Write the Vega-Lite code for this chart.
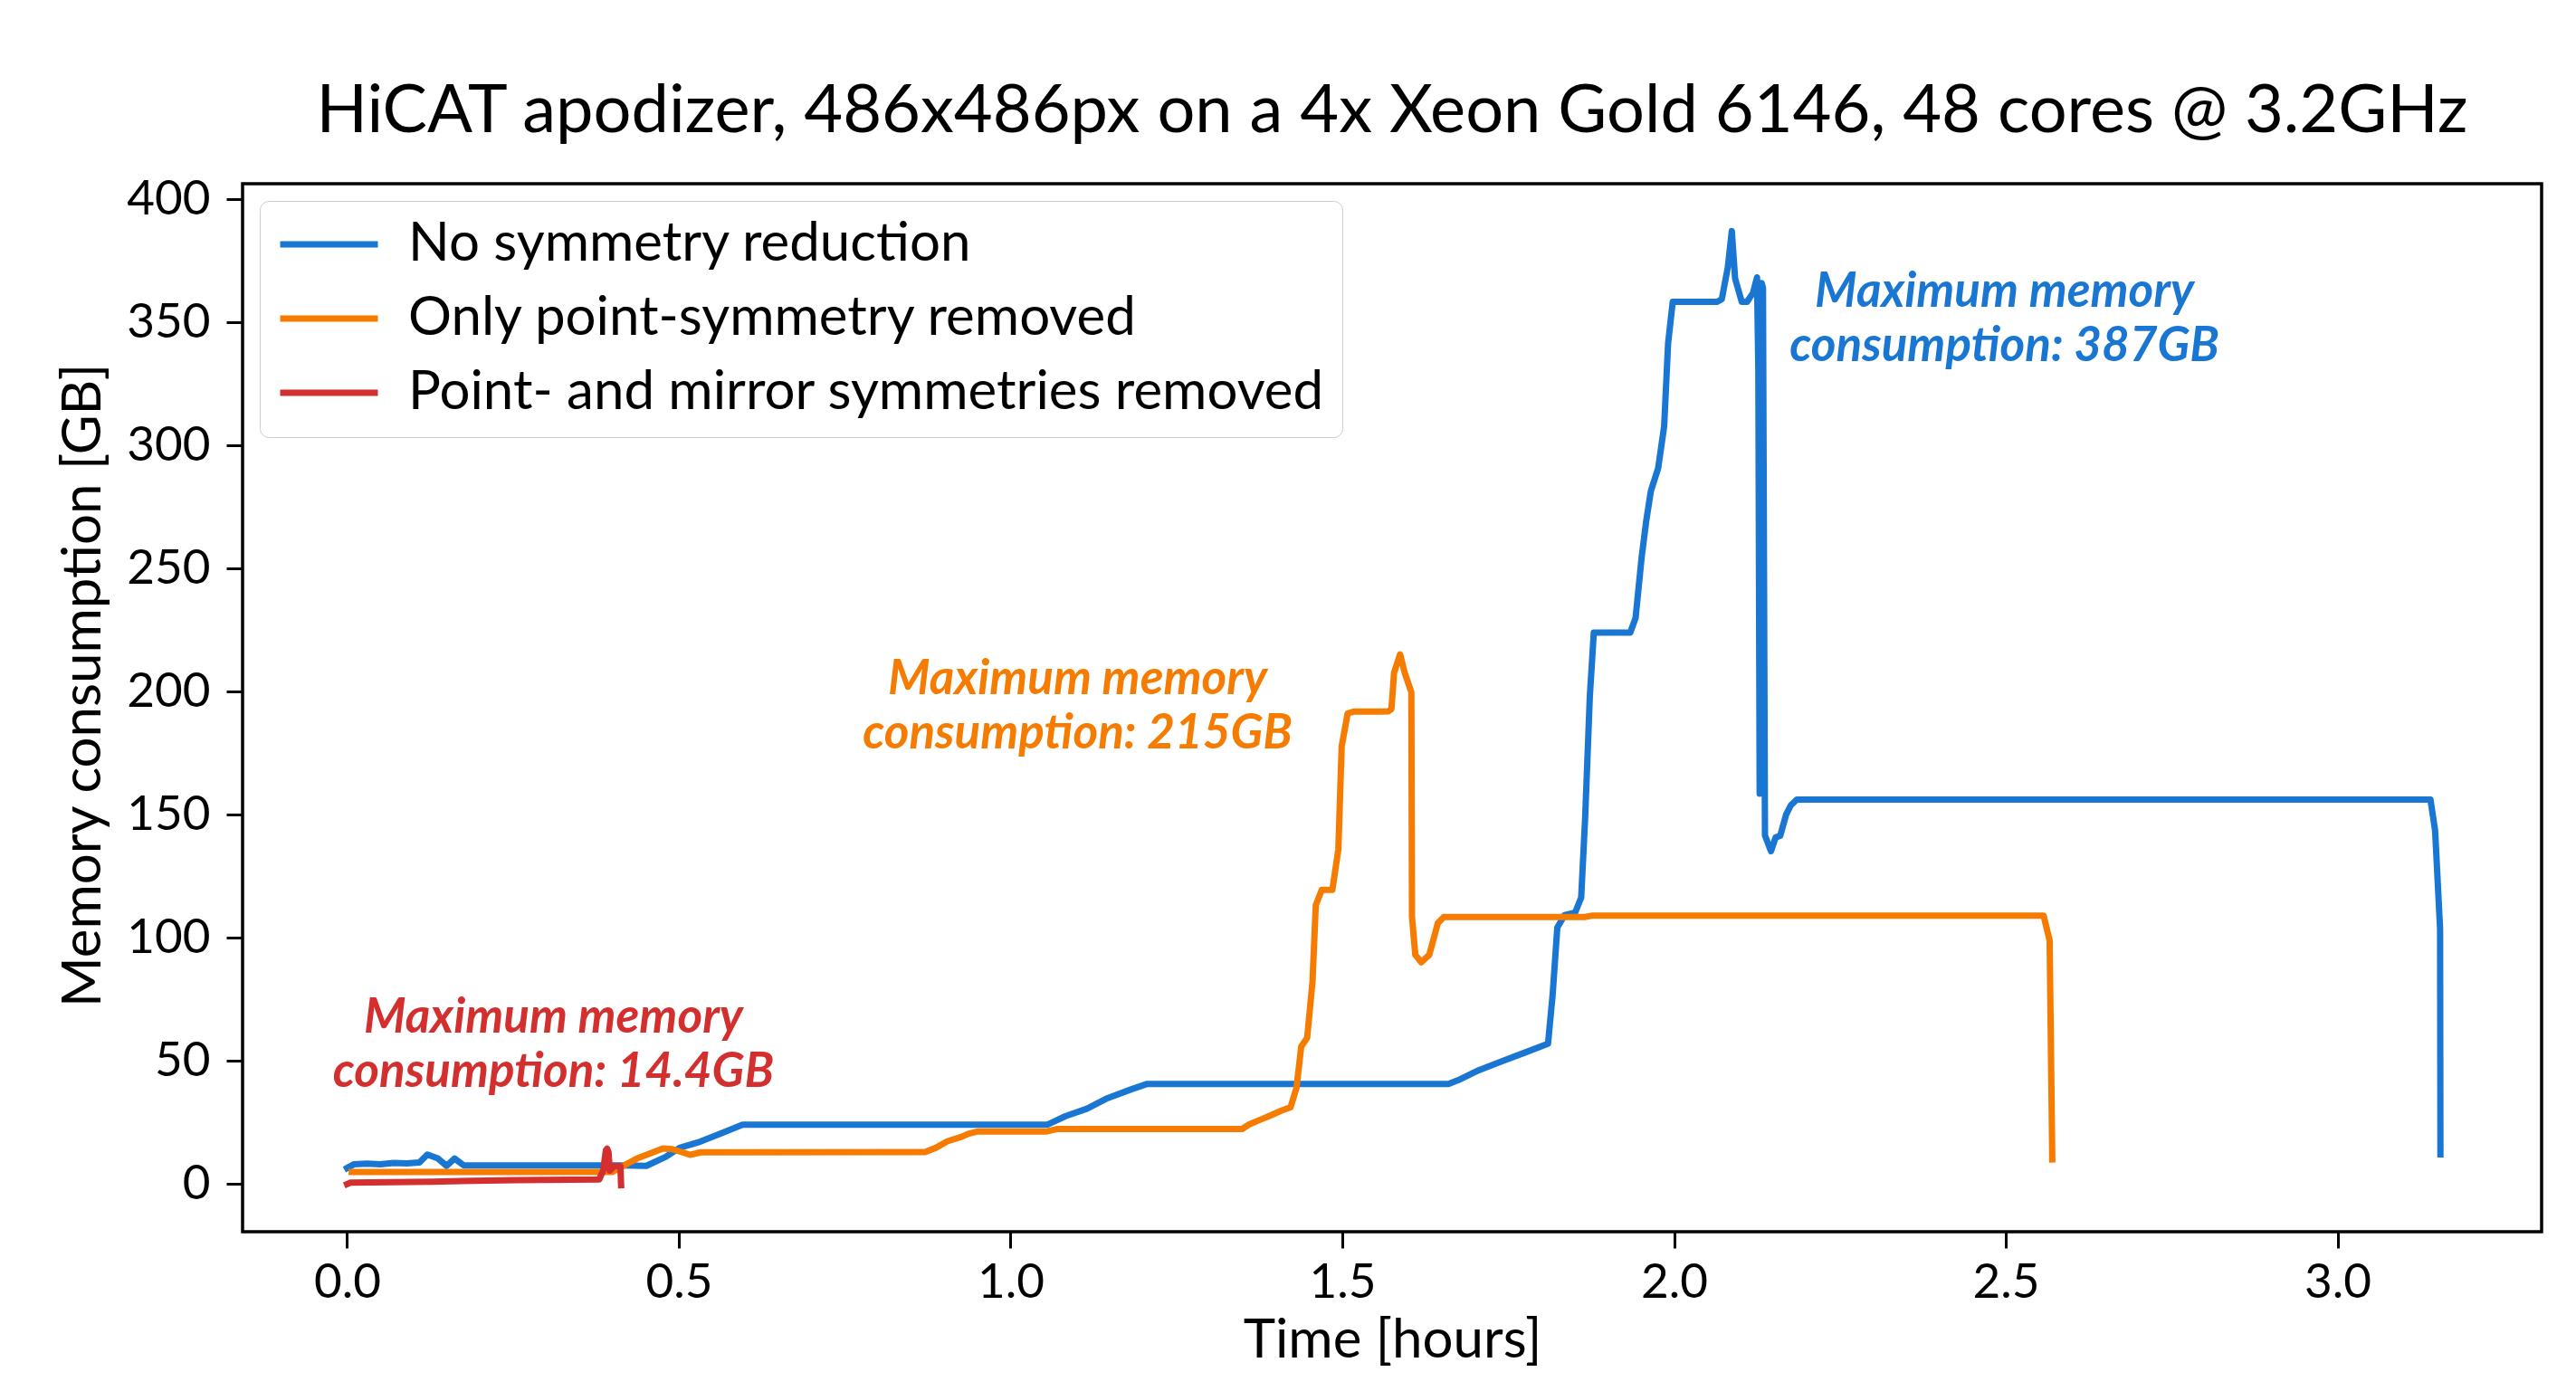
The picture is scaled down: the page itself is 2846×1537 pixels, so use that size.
{
  "$schema": "https://vega.github.io/schema/vega-lite/v6.json",
  "width": 2540,
  "height": 1158,
  "autosize": {"type": "none"},
  "padding": {"left": 268, "top": 203, "right": 38, "bottom": 176},
  "background": "white",
  "title": {
    "text": "HiCAT apodizer, 486x486px on a 4x Xeon Gold 6146, 48 cores @ 3.2GHz",
    "font": "Lato",
    "fontSize": 74,
    "fontWeight": "normal",
    "color": "black",
    "anchor": "middle",
    "baseline": "alphabetic",
    "offset": -26
  },
  "config": {
    "font": "Lato",
    "view": {"stroke": "black", "strokeWidth": 3.5},
    "axis": {
      "grid": false,
      "domain": false,
      "tickSize": 18,
      "tickWidth": 3,
      "tickColor": "black",
      "labelFont": "Lato",
      "labelFontSize": 53,
      "labelColor": "black",
      "titleFont": "Lato",
      "titleFontSize": 60,
      "titleFontWeight": "normal",
      "titleColor": "black"
    }
  },
  "layer": [
    {
      "data": {"values": [
        {"series": "No symmetry reduction", "t": 0.000, "mem": 6.5},
        {"series": "No symmetry reduction", "t": 0.010, "mem": 8.0},
        {"series": "No symmetry reduction", "t": 0.030, "mem": 8.3},
        {"series": "No symmetry reduction", "t": 0.050, "mem": 8.0},
        {"series": "No symmetry reduction", "t": 0.070, "mem": 8.6},
        {"series": "No symmetry reduction", "t": 0.090, "mem": 8.4},
        {"series": "No symmetry reduction", "t": 0.109, "mem": 8.8},
        {"series": "No symmetry reduction", "t": 0.121, "mem": 12.0},
        {"series": "No symmetry reduction", "t": 0.137, "mem": 10.4},
        {"series": "No symmetry reduction", "t": 0.150, "mem": 7.4},
        {"series": "No symmetry reduction", "t": 0.162, "mem": 10.4},
        {"series": "No symmetry reduction", "t": 0.176, "mem": 7.6},
        {"series": "No symmetry reduction", "t": 0.417, "mem": 7.6},
        {"series": "No symmetry reduction", "t": 0.451, "mem": 7.4},
        {"series": "No symmetry reduction", "t": 0.480, "mem": 11.0},
        {"series": "No symmetry reduction", "t": 0.501, "mem": 14.7},
        {"series": "No symmetry reduction", "t": 0.532, "mem": 17.2},
        {"series": "No symmetry reduction", "t": 0.564, "mem": 20.6},
        {"series": "No symmetry reduction", "t": 0.596, "mem": 24.1},
        {"series": "No symmetry reduction", "t": 1.055, "mem": 24.1},
        {"series": "No symmetry reduction", "t": 1.083, "mem": 27.6},
        {"series": "No symmetry reduction", "t": 1.115, "mem": 30.6},
        {"series": "No symmetry reduction", "t": 1.146, "mem": 34.9},
        {"series": "No symmetry reduction", "t": 1.183, "mem": 38.6},
        {"series": "No symmetry reduction", "t": 1.206, "mem": 40.7},
        {"series": "No symmetry reduction", "t": 1.660, "mem": 40.7},
        {"series": "No symmetry reduction", "t": 1.678, "mem": 42.6},
        {"series": "No symmetry reduction", "t": 1.706, "mem": 46.3},
        {"series": "No symmetry reduction", "t": 1.742, "mem": 50.0},
        {"series": "No symmetry reduction", "t": 1.774, "mem": 53.3},
        {"series": "No symmetry reduction", "t": 1.810, "mem": 57.0},
        {"series": "No symmetry reduction", "t": 1.817, "mem": 77.0},
        {"series": "No symmetry reduction", "t": 1.824, "mem": 104.2},
        {"series": "No symmetry reduction", "t": 1.835, "mem": 109.3},
        {"series": "No symmetry reduction", "t": 1.851, "mem": 110.3},
        {"series": "No symmetry reduction", "t": 1.860, "mem": 116.4},
        {"series": "No symmetry reduction", "t": 1.866, "mem": 149.0},
        {"series": "No symmetry reduction", "t": 1.873, "mem": 198.0},
        {"series": "No symmetry reduction", "t": 1.879, "mem": 224.0},
        {"series": "No symmetry reduction", "t": 1.934, "mem": 224.0},
        {"series": "No symmetry reduction", "t": 1.942, "mem": 230.0},
        {"series": "No symmetry reduction", "t": 1.951, "mem": 254.3},
        {"series": "No symmetry reduction", "t": 1.958, "mem": 269.3},
        {"series": "No symmetry reduction", "t": 1.965, "mem": 281.5},
        {"series": "No symmetry reduction", "t": 1.976, "mem": 290.8},
        {"series": "No symmetry reduction", "t": 1.985, "mem": 307.7},
        {"series": "No symmetry reduction", "t": 1.991, "mem": 341.5},
        {"series": "No symmetry reduction", "t": 1.998, "mem": 358.4},
        {"series": "No symmetry reduction", "t": 2.065, "mem": 358.4},
        {"series": "No symmetry reduction", "t": 2.072, "mem": 359.5},
        {"series": "No symmetry reduction", "t": 2.081, "mem": 372.4},
        {"series": "No symmetry reduction", "t": 2.087, "mem": 387.1},
        {"series": "No symmetry reduction", "t": 2.092, "mem": 367.8},
        {"series": "No symmetry reduction", "t": 2.102, "mem": 358.4},
        {"series": "No symmetry reduction", "t": 2.110, "mem": 358.4},
        {"series": "No symmetry reduction", "t": 2.119, "mem": 362.0},
        {"series": "No symmetry reduction", "t": 2.125, "mem": 368.3},
        {"series": "No symmetry reduction", "t": 2.127, "mem": 330.0},
        {"series": "No symmetry reduction", "t": 2.129, "mem": 158.6},
        {"series": "No symmetry reduction", "t": 2.132, "mem": 366.0},
        {"series": "No symmetry reduction", "t": 2.134, "mem": 364.0},
        {"series": "No symmetry reduction", "t": 2.137, "mem": 141.7},
        {"series": "No symmetry reduction", "t": 2.146, "mem": 135.2},
        {"series": "No symmetry reduction", "t": 2.153, "mem": 140.8},
        {"series": "No symmetry reduction", "t": 2.160, "mem": 141.5},
        {"series": "No symmetry reduction", "t": 2.169, "mem": 150.2},
        {"series": "No symmetry reduction", "t": 2.176, "mem": 153.9},
        {"series": "No symmetry reduction", "t": 2.185, "mem": 156.2},
        {"series": "No symmetry reduction", "t": 3.140, "mem": 156.2},
        {"series": "No symmetry reduction", "t": 3.147, "mem": 143.6},
        {"series": "No symmetry reduction", "t": 3.1545, "mem": 103.7},
        {"series": "No symmetry reduction", "t": 3.155, "mem": 12.1},

        {"series": "Only point-symmetry removed", "t": 0.007, "mem": 4.9},
        {"series": "Only point-symmetry removed", "t": 0.400, "mem": 4.9},
        {"series": "Only point-symmetry removed", "t": 0.416, "mem": 7.35},
        {"series": "Only point-symmetry removed", "t": 0.437, "mem": 10.4},
        {"series": "Only point-symmetry removed", "t": 0.455, "mem": 12.3},
        {"series": "Only point-symmetry removed", "t": 0.476, "mem": 14.5},
        {"series": "Only point-symmetry removed", "t": 0.490, "mem": 14.2},
        {"series": "Only point-symmetry removed", "t": 0.517, "mem": 11.9},
        {"series": "Only point-symmetry removed", "t": 0.533, "mem": 12.9},
        {"series": "Only point-symmetry removed", "t": 0.871, "mem": 13.0},
        {"series": "Only point-symmetry removed", "t": 0.887, "mem": 14.7},
        {"series": "Only point-symmetry removed", "t": 0.905, "mem": 17.4},
        {"series": "Only point-symmetry removed", "t": 0.924, "mem": 19.0},
        {"series": "Only point-symmetry removed", "t": 0.937, "mem": 20.5},
        {"series": "Only point-symmetry removed", "t": 0.951, "mem": 21.4},
        {"series": "Only point-symmetry removed", "t": 1.055, "mem": 21.4},
        {"series": "Only point-symmetry removed", "t": 1.071, "mem": 22.4},
        {"series": "Only point-symmetry removed", "t": 1.349, "mem": 22.4},
        {"series": "Only point-symmetry removed", "t": 1.360, "mem": 24.3},
        {"series": "Only point-symmetry removed", "t": 1.376, "mem": 26.1},
        {"series": "Only point-symmetry removed", "t": 1.392, "mem": 27.9},
        {"series": "Only point-symmetry removed", "t": 1.408, "mem": 29.8},
        {"series": "Only point-symmetry removed", "t": 1.422, "mem": 31.2},
        {"series": "Only point-symmetry removed", "t": 1.431, "mem": 39.2},
        {"series": "Only point-symmetry removed", "t": 1.438, "mem": 55.8},
        {"series": "Only point-symmetry removed", "t": 1.447, "mem": 59.4},
        {"series": "Only point-symmetry removed", "t": 1.455, "mem": 82.1},
        {"series": "Only point-symmetry removed", "t": 1.460, "mem": 113.3},
        {"series": "Only point-symmetry removed", "t": 1.469, "mem": 119.5},
        {"series": "Only point-symmetry removed", "t": 1.485, "mem": 119.5},
        {"series": "Only point-symmetry removed", "t": 1.494, "mem": 136.0},
        {"series": "Only point-symmetry removed", "t": 1.499, "mem": 177.7},
        {"series": "Only point-symmetry removed", "t": 1.508, "mem": 191.2},
        {"series": "Only point-symmetry removed", "t": 1.517, "mem": 191.9},
        {"series": "Only point-symmetry removed", "t": 1.569, "mem": 192.0},
        {"series": "Only point-symmetry removed", "t": 1.574, "mem": 193.0},
        {"series": "Only point-symmetry removed", "t": 1.578, "mem": 207.7},
        {"series": "Only point-symmetry removed", "t": 1.587, "mem": 215.2},
        {"series": "Only point-symmetry removed", "t": 1.594, "mem": 207.7},
        {"series": "Only point-symmetry removed", "t": 1.604, "mem": 199.8},
        {"series": "Only point-symmetry removed", "t": 1.605, "mem": 108.5},
        {"series": "Only point-symmetry removed", "t": 1.610, "mem": 93.1},
        {"series": "Only point-symmetry removed", "t": 1.619, "mem": 90.1},
        {"series": "Only point-symmetry removed", "t": 1.631, "mem": 93.1},
        {"series": "Only point-symmetry removed", "t": 1.644, "mem": 106.0},
        {"series": "Only point-symmetry removed", "t": 1.653, "mem": 108.5},
        {"series": "Only point-symmetry removed", "t": 1.865, "mem": 108.5},
        {"series": "Only point-symmetry removed", "t": 1.876, "mem": 109.0},
        {"series": "Only point-symmetry removed", "t": 2.557, "mem": 109.0},
        {"series": "Only point-symmetry removed", "t": 2.566, "mem": 99.0},
        {"series": "Only point-symmetry removed", "t": 2.570, "mem": 10.0},

        {"series": "Point- and mirror symmetries removed", "t": 0.000, "mem": 0.0},
        {"series": "Point- and mirror symmetries removed", "t": 0.005, "mem": 0.6},
        {"series": "Point- and mirror symmetries removed", "t": 0.128, "mem": 1.0},
        {"series": "Point- and mirror symmetries removed", "t": 0.255, "mem": 1.6},
        {"series": "Point- and mirror symmetries removed", "t": 0.380, "mem": 1.9},
        {"series": "Point- and mirror symmetries removed", "t": 0.386, "mem": 5.5},
        {"series": "Point- and mirror symmetries removed", "t": 0.390, "mem": 13.7},
        {"series": "Point- and mirror symmetries removed", "t": 0.392, "mem": 14.4},
        {"series": "Point- and mirror symmetries removed", "t": 0.394, "mem": 13.0},
        {"series": "Point- and mirror symmetries removed", "t": 0.396, "mem": 5.5},
        {"series": "Point- and mirror symmetries removed", "t": 0.403, "mem": 7.35},
        {"series": "Point- and mirror symmetries removed", "t": 0.412, "mem": 7.2},
        {"series": "Point- and mirror symmetries removed", "t": 0.413, "mem": -0.5}
      ]},
      "mark": {"type": "line", "strokeWidth": 7, "strokeJoin": "round", "strokeCap": "square", "clip": true},
      "encoding": {
        "x": {
          "field": "t", "type": "quantitative",
          "scale": {"domain": [-0.1575, 3.3075], "nice": false, "zero": false},
          "axis": {"title": "Time [hours]", "values": [0, 0.5, 1, 1.5, 2, 2.5, 3], "format": ".1f", "labelPadding": 12, "titlePadding": 8}
        },
        "y": {
          "field": "mem", "type": "quantitative",
          "scale": {"domain": [-19.35, 406.35], "nice": false, "zero": false},
          "axis": {"title": "Memory consumption [GB]", "values": [0, 50, 100, 150, 200, 250, 300, 350, 400], "labelPadding": 18, "titlePadding": 16, "titleY": 554}
        },
        "color": {
          "field": "series", "type": "nominal",
          "scale": {
            "domain": ["No symmetry reduction", "Only point-symmetry removed", "Point- and mirror symmetries removed"],
            "range": ["#1976D2", "#F57C00", "#D32F2F"]
          },
          "legend": {
            "title": null,
            "orient": "top-left",
            "offset": 19,
            "padding": 19,
            "clipHeight": 58,
            "symbolType": "stroke",
            "symbolSize": 11664,
            "symbolStrokeWidth": 7,
            "labelFont": "Lato",
            "labelFontSize": 60,
            "labelColor": "black",
            "labelLimit": 1400,
            "labelOffset": 30,
            "rowPadding": 22,
            "strokeColor": "#cccccc",
            "fillColor": "rgba(255,255,255,0.8)",
            "cornerRadius": 10
          }
        }
      }
    },
    {
      "data": {"values": [{"t": 2.498, "mem": 356.4, "label": "Maximum memory\nconsumption: 387GB"}]},
      "mark": {"type": "text", "font": "Lato", "fontSize": 53, "fontWeight": "bold", "fontStyle": "italic", "align": "center", "baseline": "alphabetic", "lineBreak": "\n", "lineHeight": 60, "color": "#1976D2"},
      "encoding": {"x": {"field": "t", "type": "quantitative"}, "y": {"field": "mem", "type": "quantitative"}, "text": {"field": "label"}}
    },
    {
      "data": {"values": [{"t": 1.101, "mem": 198.9, "label": "Maximum memory\nconsumption: 215GB"}]},
      "mark": {"type": "text", "font": "Lato", "fontSize": 53, "fontWeight": "bold", "fontStyle": "italic", "align": "center", "baseline": "alphabetic", "lineBreak": "\n", "lineHeight": 60, "color": "#F57C00"},
      "encoding": {"x": {"field": "t", "type": "quantitative"}, "y": {"field": "mem", "type": "quantitative"}, "text": {"field": "label"}}
    },
    {
      "data": {"values": [{"t": 0.311, "mem": 61.4, "label": "Maximum memory\nconsumption: 14.4GB"}]},
      "mark": {"type": "text", "font": "Lato", "fontSize": 53, "fontWeight": "bold", "fontStyle": "italic", "align": "center", "baseline": "alphabetic", "lineBreak": "\n", "lineHeight": 60, "color": "#D32F2F"},
      "encoding": {"x": {"field": "t", "type": "quantitative"}, "y": {"field": "mem", "type": "quantitative"}, "text": {"field": "label"}}
    }
  ]
}
